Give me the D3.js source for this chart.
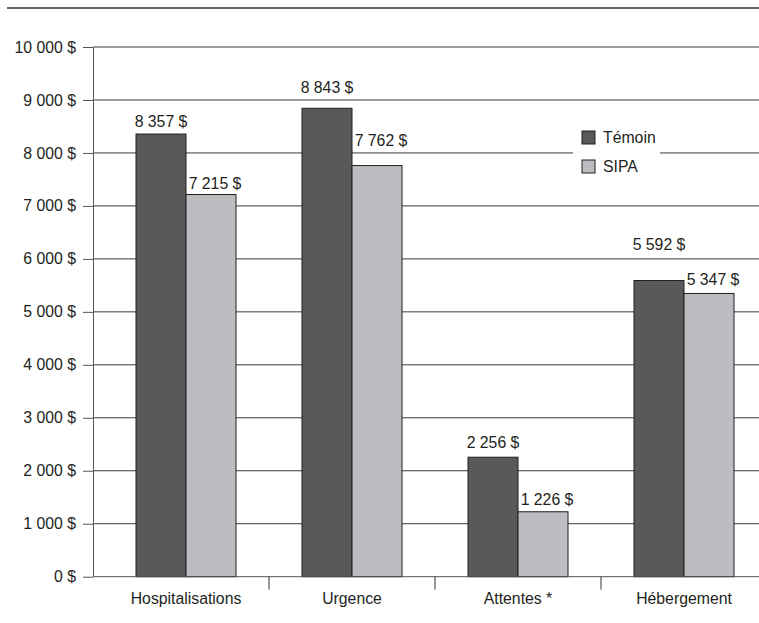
<!DOCTYPE html>
<html lang="fr">
<head>
<meta charset="utf-8">
<script src="https://cdn.jsdelivr.net/npm/d3@7"></script>
<style>
  html, body { margin: 0; padding: 0; background: #fff; }
  svg { display: block; font-family: "Liberation Sans", Arial, Helvetica, sans-serif; }
</style>
</head>
<body>
<svg id="chart" width="759" height="623"></svg>
<script>
// Cost categories and the two compared groups
const categories = ["Hospitalisations", "Urgence", "Attentes *", "Hébergement"];
const seriesNames = ["Témoin", "SIPA"];
const temoinValues = [8357, 8843, 2256, 5592];
const sipaValues = [7215, 7762, 1226, 5347];
const yTicks = [0, 1000, 2000, 3000, 4000, 5000, 6000, 7000, 8000, 9000, 10000];

// Layout only: gap in px between a bar top and its value label
const labelLift = { "Témoin": [7, 15, 9, 30], "SIPA": [6, 20, 7, 8] };

const colors = { "Témoin": "#58595b", "SIPA": "#bcbdc0" };
const ink = "#231f20";
const fontSize = 15.8;

const W = 759, H = 623;
const axisX = 93, plotTop = 47, plotBottom = 576.7;

const fr = d3.formatLocale({ decimal: ",", thousands: "\u00a0", grouping: [3], currency: ["", "\u00a0$"] });
const money = fr.format("$,");

const svg = d3.select("#chart");

const y = d3.scaleLinear().domain([0, 10000]).range([plotBottom, plotTop]);
const x = d3.scaleBand().domain(categories).range([103, 767]).paddingInner(0).paddingOuter(0);
const xInner = d3.scaleBand().domain(seriesNames).range([0, x.bandwidth()]).paddingInner(0).paddingOuter(0.66);

// rule across the top
svg.append("line")
  .attr("x1", 7).attr("x2", W).attr("y1", 8).attr("y2", 8)
  .attr("stroke", "#333").attr("stroke-width", 1.6);

// horizontal gridlines
svg.append("g").selectAll("line")
  .data(yTicks.filter(d => d > 0))
  .join("line")
  .attr("x1", axisX).attr("x2", W)
  .attr("y1", d => y(d)).attr("y2", d => y(d))
  .attr("stroke", "#3a3a3a").attr("stroke-width", 1);

// y axis
const yAxis = svg.append("g")
  .attr("transform", `translate(${axisX},0)`)
  .call(d3.axisLeft(y).tickValues(yTicks).tickFormat(money).tickSize(10).tickSizeOuter(0).tickPadding(7));
yAxis.select(".domain").attr("stroke", "#555");
yAxis.selectAll(".tick line").attr("stroke", "#555");
yAxis.selectAll("text")
  .attr("font-size", fontSize).attr("fill", ink).attr("font-family", null);

// legend backdrop breaks the gridline behind it
svg.append("rect")
  .attr("x", 573).attr("y", 120).attr("width", 87).attr("height", 66)
  .attr("fill", "#fff");

// bars
const rows = seriesNames.map(s => ({ name: s, values: s === "Témoin" ? temoinValues : sipaValues }));
const groups = svg.append("g").selectAll("g")
  .data(rows)
  .join("g");

groups.selectAll("rect")
  .data(r => r.values.map((v, i) => ({ series: r.name, cat: categories[i], value: v, i })))
  .join("rect")
  .attr("x", d => x(d.cat) + xInner(d.series))
  .attr("y", d => y(d.value))
  .attr("width", xInner.bandwidth())
  .attr("height", d => y(0) - y(d.value))
  .attr("fill", d => colors[d.series])
  .attr("stroke", ink).attr("stroke-width", 1);

// value labels
groups.selectAll("text")
  .data(r => r.values.map((v, i) => ({ series: r.name, cat: categories[i], value: v, i })))
  .join("text")
  .attr("x", d => x(d.cat) + xInner(d.series) + xInner.bandwidth() / 2 + (d.series === "SIPA" ? 4 : 0))
  .attr("y", d => y(d.value) - labelLift[d.series][d.i])
  .attr("text-anchor", "middle")
  .attr("font-size", fontSize).attr("fill", ink)
  .text(d => money(d.value));

// x axis
const xAxis = svg.append("g")
  .attr("transform", `translate(0,${plotBottom})`)
  .call(d3.axisBottom(x).tickSize(0).tickPadding(16));
xAxis.select(".domain").remove();
xAxis.selectAll("text").attr("font-size", fontSize).attr("fill", ink).attr("font-family", null);

svg.append("line")
  .attr("x1", axisX).attr("x2", W).attr("y1", plotBottom).attr("y2", plotBottom)
  .attr("stroke", "#555").attr("stroke-width", 1);

// category boundary ticks
svg.append("g").selectAll("line")
  .data(categories.slice(1))
  .join("line")
  .attr("x1", d => x(d)).attr("x2", d => x(d))
  .attr("y1", plotBottom).attr("y2", plotBottom + 13)
  .attr("stroke", "#333").attr("stroke-width", 1);

// legend
const legend = svg.append("g");
legend.selectAll("rect")
  .data(seriesNames)
  .join("rect")
  .attr("x", 582).attr("y", (d, i) => 131 + i * 29)
  .attr("width", 13).attr("height", 13)
  .attr("fill", d => colors[d]).attr("stroke", ink).attr("stroke-width", 1);
legend.selectAll("text")
  .data(seriesNames)
  .join("text")
  .attr("x", 603).attr("y", (d, i) => 143 + i * 29)
  .attr("font-size", fontSize).attr("fill", ink)
  .text(d => d);
</script>
</body>
</html>
